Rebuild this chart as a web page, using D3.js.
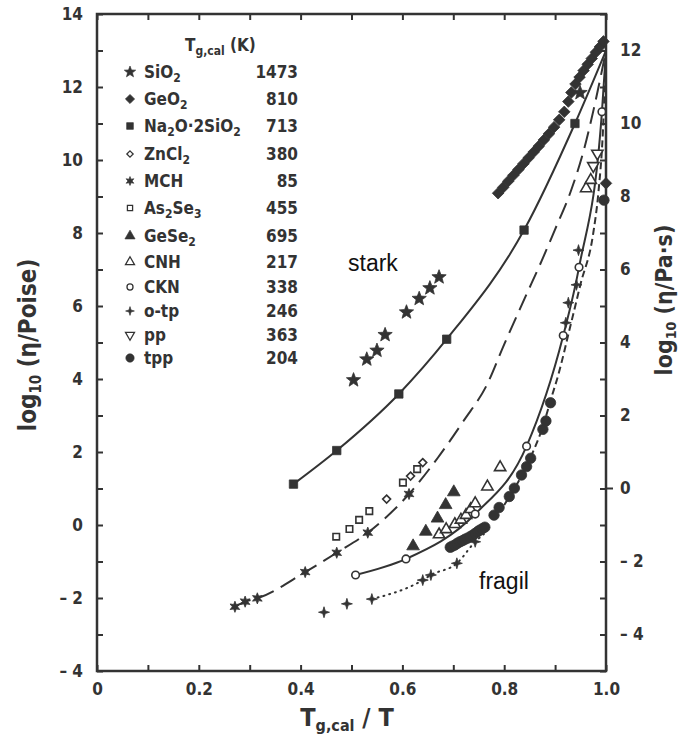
<!DOCTYPE html>
<html>
<head>
<meta charset="utf-8">
<script src="https://cdn.jsdelivr.net/npm/d3@7"></script>
<style>
  body { margin: 0; background: #fff; }
  svg text { font-family: "DejaVu Sans Condensed", "DejaVu Sans", sans-serif; font-weight: bold; fill: #333; }
  svg text.note { font-family: "Liberation Sans", Arial, sans-serif; font-weight: normal; fill: #111; }
</style>
</head>
<body>
<svg id="chart" width="686" height="751"></svg>
<script>
// ---- data: [Tg,cal/T, log10(eta/Poise)] ----
const sio2 = [[0.504,3.97],[0.530,4.54],[0.550,4.78],[0.566,5.21],[0.608,5.83],[0.633,6.20],[0.654,6.49],[0.672,6.79],[0.949,11.84]];
const geo2 = [[0.788,9.09],[0.798,9.25],[0.808,9.42],[0.818,9.58],[0.828,9.74],[0.838,9.90],[0.848,10.06],[0.858,10.22],
              [0.868,10.38],[0.878,10.55],[0.888,10.72],[0.898,10.90],[0.908,11.10],[0.918,11.32],[0.926,11.60],[0.932,11.85],
              [0.940,12.08],[0.948,12.27],[0.956,12.45],[0.964,12.62],[0.972,12.78],[0.980,12.95],[0.988,13.10],[0.995,13.25],[1.0,9.36]];
const na2o = [[0.386,1.12],[0.471,2.04],[0.593,3.59],[0.687,5.09],[0.839,8.08],[0.939,11.0]];
const zncl2 = [[0.569,0.71],[0.616,1.34],[0.640,1.71]];
const mch = [[0.271,-2.24],[0.291,-2.10],[0.315,-2.01],[0.409,-1.29],[0.471,-0.76],[0.532,-0.21],[0.613,0.85]];
const as2se3 = [[0.470,-0.32],[0.496,-0.11],[0.515,0.14],[0.535,0.38],[0.601,1.16],[0.629,1.53]];
const gese2 = [[0.621,-0.58],[0.646,-0.18],[0.669,0.18],[0.685,0.55],[0.701,0.90]];
const cnh = [[0.672,-0.26],[0.686,-0.12],[0.703,0.02],[0.715,0.14],[0.725,0.27],[0.734,0.43],[0.743,0.59],[0.767,1.05],[0.792,1.58],[0.961,9.22],[0.970,9.45]];
const ckn = [[0.508,-1.37],[0.607,-0.93],[0.743,0.30],[0.844,2.16],[0.916,5.19],[0.947,7.06],[0.992,11.32]];
const otp = [[0.446,-2.39],[0.491,-2.16],[0.540,-2.03],[0.640,-1.51],[0.656,-1.37],[0.707,-1.05],[0.743,-0.46],[0.921,5.54],[0.926,6.09],[0.942,6.58],[0.946,7.53]];
const pp = [[0.975,9.84],[0.983,10.18]];
const tpp = [[0.694,-0.61],[0.698,-0.58],[0.703,-0.55],[0.708,-0.50],[0.713,-0.46],[0.718,-0.43],[0.723,-0.39],[0.728,-0.36],
             [0.733,-0.32],[0.738,-0.28],[0.743,-0.23],[0.748,-0.18],[0.752,-0.14],[0.757,-0.10],[0.762,-0.06],[0.780,0.27],
             [0.790,0.48],[0.810,0.78],[0.820,1.01],[0.834,1.37],[0.844,1.60],[0.852,1.83],[0.876,2.62],[0.882,2.85],[0.891,3.35],[0.996,8.90]];

// fitted curves as drawn in the figure
const na2oCurve = [[0.386,1.12],[0.471,2.04],[0.593,3.59],[0.687,5.09],[0.839,8.08],[0.939,11.0],[1.0,13.0]];
const mchCurve = [[0.271,-2.24],[0.291,-2.10],[0.315,-2.01],[0.409,-1.29],[0.471,-0.76],[0.532,-0.21],[0.613,0.85],[0.67,1.85],
                  [0.72,2.85],[0.766,3.84],[0.80,4.95],[0.84,6.2],[0.874,7.25],[0.90,8.1],[0.931,9.15],[0.957,10.3],[0.976,11.4],[1.0,13.0]];
const cknCurve = [[0.508,-1.37],[0.607,-0.93],[0.743,0.30],[0.844,2.16],[0.916,5.19],[0.947,7.06],[0.992,11.32],[1.0,13.0]];
const otpCurve = [[0.540,-2.03],[0.640,-1.51],[0.656,-1.37],[0.707,-1.05],[0.743,-0.46],[0.760,-0.25]];
const tppCurve = [[0.80,0.55],[0.85,1.80],[0.876,2.70],[0.893,3.50],[0.906,4.10],[0.930,5.45],[0.950,6.60],[0.975,8.0],[0.985,9.1],[0.994,10.8],[1.0,13.0]];

// legend
const legendNames = ["SiO_2","GeO_2","Na_2O·2SiO_2","ZnCl_2","MCH","As_2Se_3","GeSe_2","CNH","CKN","o-tp","pp","tpp"];
const legendTg = [1473, 810, 713, 380, 85, 455, 695, 217, 338, 246, 363, 204];

const xTicks = [0, 0.2, 0.4, 0.6, 0.8, 1.0];
const yTicks = [-4, -2, 0, 2, 4, 6, 8, 10, 12, 14];
const yTicksRight = [-4, -2, 0, 2, 4, 6, 8, 10, 12];

// ---- setup ----
const ink = "#333";
const margin = { top: 14, right: 80, bottom: 80, left: 97 };
const svg_width = 686, svg_height = 751;
const width = svg_width - margin.left - margin.right,
      height = svg_height - margin.top - margin.bottom;

const svg = d3.select("#chart");
const g = svg.append("g").attr("transform", `translate(${margin.left},${margin.top})`);

const x = d3.scaleLinear().domain([0, 1]).range([0, width]);
const y = d3.scaleLinear().domain([-4, 14]).range([height, 0]);
const yR = d3.scaleLinear().domain([-5, 13]).range([height, 0]);

// custom marker shapes
function starN(n, r0, r1) {
  return {
    draw(ctx, size) {
      const k = Math.sqrt(size) / 10;
      for (let i = 0; i < 2 * n; i++) {
        const r = (i % 2 ? r1 : r0) * k, a = Math.PI * i / n - Math.PI / 2;
        i ? ctx.lineTo(r * Math.cos(a), r * Math.sin(a)) : ctx.moveTo(r * Math.cos(a), r * Math.sin(a));
      }
      ctx.closePath();
    }
  };
}
const styles = {
  sio2:   { type: starN(5, 7.5, 3.2), size: 100, fill: ink },
  geo2:   { type: d3.symbolDiamond2, size: 85, fill: ink },
  na2o:   { type: d3.symbolSquare, size: 70, fill: ink },
  zncl2:  { type: d3.symbolDiamond2, size: 40, fill: "#fff" },
  mch:    { type: starN(6, 5.6, 2.6), size: 100, fill: ink },
  as2se3: { type: d3.symbolSquare, size: 42, fill: "#fff" },
  gese2:  { type: d3.symbolTriangle, size: 70, fill: ink },
  cnh:    { type: d3.symbolTriangle, size: 55, fill: "#fff" },
  ckn:    { type: d3.symbolCircle, size: 45, fill: "#fff" },
  otp:    { type: starN(4, 5.5, 1.8), size: 100, fill: ink },
  pp:     { type: d3.symbolTriangle, size: 55, fill: "#fff", rot: 180 },
  tpp:    { type: d3.symbolCircle, size: 85, fill: ink }
};
const seriesKeys = ["sio2","geo2","na2o","zncl2","mch","as2se3","gese2","cnh","ckn","otp","pp","tpp"];
const seriesData = { sio2, geo2, na2o, zncl2, mch, as2se3, gese2, cnh, ckn, otp, pp, tpp };

// ---- curves ----
const line = d3.line().x(d => x(d[0])).y(d => y(d[1])).curve(d3.curveMonotoneX);
function drawCurve(data, dash) {
  g.append("path").datum(data)
    .attr("fill", "none").attr("stroke", ink).attr("stroke-width", 2)
    .attr("stroke-linecap", dash === "1,5" ? "round" : "butt")
    .attr("stroke-dasharray", dash)
    .attr("d", line);
}
drawCurve(na2oCurve, null);
drawCurve(mchCurve, "17,8");
drawCurve(cknCurve, null);
drawCurve(otpCurve, "1,5");
drawCurve(tppCurve, "7,4");

// ---- markers ----
function marker(sel, key) {
  const s = styles[key];
  sel.attr("d", d3.symbol().type(s.type).size(s.size))
    .attr("fill", s.fill)
    .attr("stroke", ink)
    .attr("stroke-width", s.fill === ink ? 0.8 : 1.6);
}
seriesKeys.forEach(key => {
  const s = styles[key];
  g.append("g").selectAll("path")
    .data(seriesData[key])
    .join("path")
    .attr("transform", d => `translate(${x(d[0])},${y(d[1])})` + (s.rot ? ` rotate(${s.rot})` : ""))
    .call(marker, key);
});

// ---- axes ----
const axisStyle = sel => {
  sel.select(".domain").remove();
  sel.selectAll("line").attr("stroke", ink).attr("stroke-width", 2);
  sel.selectAll("text").attr("font-size", 17).attr("fill", ink);
};
g.append("g").attr("transform", `translate(0,${height})`)
  .call(d3.axisBottom(x).ticks(10).tickSize(-6).tickFormat(d => xTicks.some(t => Math.abs(t - d) < 1e-9) ? (d === 0 ? "0" : d3.format(".1f")(d)) : "").tickPadding(12))
  .call(axisStyle);
g.append("g")
  .call(d3.axisTop(x).ticks(10).tickSize(-6).tickFormat(""))
  .call(axisStyle);
g.append("g")
  .call(d3.axisLeft(y).tickValues(d3.range(-4, 15)).tickSize(-6)
    .tickFormat(d => yTicks.includes(d) ? (d < 0 ? "– " + (-d) : d) : "").tickPadding(14))
  .call(axisStyle);
g.append("g").attr("transform", `translate(${width},0)`)
  .call(d3.axisRight(yR).tickValues(d3.range(-5, 14)).tickSize(-6)
    .tickFormat(d => yTicksRight.includes(d) ? (d < 0 ? "– " + (-d) : d) : "").tickPadding(14))
  .call(axisStyle);
// the zero tick on the right axis crosses the frame
g.append("line").attr("x1", width).attr("x2", width + 7).attr("y1", yR(0)).attr("y2", yR(0))
  .attr("stroke", ink).attr("stroke-width", 2);

g.append("rect").attr("width", width).attr("height", height)
  .attr("fill", "none").attr("stroke", ink).attr("stroke-width", 2.5);

// ---- axis titles ----
function richText(sel, str, subSize) {
  // "_" marks one subscript char; "{...}" after "_" marks a longer subscript
  const re = /_\{([^}]*)\}|_(.)|([^_]+)/g;
  let m;
  while ((m = re.exec(str)) !== null) {
    if (m[3] !== undefined) sel.append("tspan").text(m[3]);
    else sel.append("tspan").attr("baseline-shift", "-30%").attr("font-size", subSize).text(m[1] !== undefined ? m[1] : m[2]);
  }
  return sel;
}
svg.append("text").attr("transform", "translate(36,345) rotate(-90)")
  .attr("text-anchor", "middle").attr("font-size", 24)
  .call(richText, "log_{10} (η/Poise)", 15);
svg.append("text").attr("transform", "translate(672,300) rotate(-90)")
  .attr("text-anchor", "middle").attr("font-size", 23)
  .call(richText, "log_{10} (η/Pa·s)", 14);
svg.append("text").attr("x", 347).attr("y", 726)
  .attr("text-anchor", "middle").attr("font-size", 25)
  .call(richText, "T_{g,cal} / T", 16);

// ---- legend ----
const legendY = [72, 99, 126, 154, 181, 208, 236, 262, 287, 311, 335, 358];
svg.append("text").attr("x", 185).attr("y", 51).attr("font-size", 17)
  .call(richText, "T_{g,cal} (K)", 12);
legendNames.forEach((name, i) => {
  const key = seriesKeys[i], s = styles[key];
  svg.append("path")
    .attr("transform", `translate(130,${legendY[i]})` + (s.rot ? " rotate(180)" : "") + " scale(0.8)")
    .call(marker, key);
  svg.append("text").attr("x", 144).attr("y", legendY[i] + 6).attr("font-size", 17)
    .call(richText, name, 12);
  svg.append("text").attr("x", 298).attr("y", legendY[i] + 6).attr("font-size", 17)
    .attr("text-anchor", "end").text(legendTg[i]);
});

// ---- annotations ----
svg.append("text").attr("class", "note").attr("x", 348).attr("y", 271).attr("font-size", 23).text("stark");
svg.append("text").attr("class", "note").attr("x", 479).attr("y", 589).attr("font-size", 23).text("fragil");
</script>
</body>
</html>
